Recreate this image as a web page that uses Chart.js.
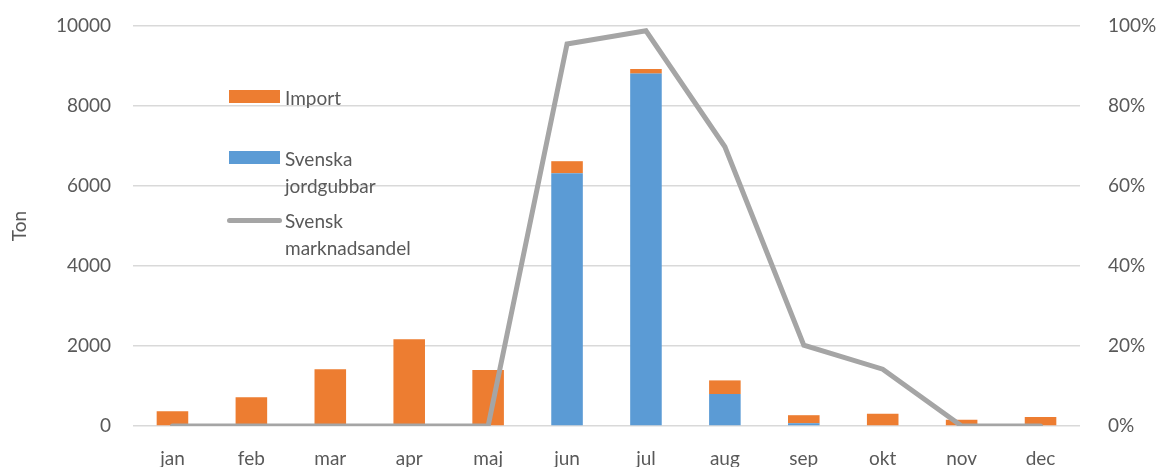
<!DOCTYPE html>
<html>
<head>
<meta charset="utf-8">
<script src="https://cdn.jsdelivr.net/npm/chart.js@4/dist/chart.umd.min.js"></script>
<style>
    html, body { margin: 0; padding: 0; background: #fff; }
    #wrap { position: relative; width: 1157px; height: 467px; }
    .legend { position: absolute; font-family: Lato, "Open Sans", sans-serif; font-size: 19px; color: #595959; line-height: 27px; }
    .legend .sym { position: absolute; left: 0; }
    .legend .txt { position: absolute; left: 56px; white-space: nowrap; }
</style>
</head>
<body>
<div id="wrap">
    <canvas id="chart" width="1157" height="467"></canvas>
    <div class="legend" style="left:229px; top:84px;">
        <div class="sym" style="top:6px; width:51px; height:13px; background:#ED7D31;"></div>
        <div class="txt" style="top:0;">Import</div>
    </div>
    <div class="legend" style="left:229px; top:145px;">
        <div class="sym" style="top:6px; width:51px; height:13px; background:#5B9BD5;"></div>
        <div class="txt" style="top:0;">Svenska<br>jordgubbar</div>
    </div>
    <div class="legend" style="left:227px; top:207px;">
        <div class="sym" style="top:11px; width:55px; height:5px; border-radius:3px; background:#A5A5A5;"></div>
        <div class="txt" style="top:0; left:58px;">Svensk<br>marknadsandel</div>
    </div>
</div>
<script>
// data
const months = ['jan', 'feb', 'mar', 'apr', 'maj', 'jun', 'jul', 'aug', 'sep', 'okt', 'nov', 'dec'];
const svenska = [0, 0, 0, 0, 0, 6320, 8810, 800, 70, 20, 0, 0];
const importTon = [370, 720, 1420, 2170, 1400, 300, 115, 340, 200, 285, 155, 225];
const marknadsandel = [0, 0, 0, 0, 0, 95.5, 98.8, 69.8, 20.2, 14.2, 0, 0];
const tonTicks = [0, 2000, 4000, 6000, 8000, 10000];

const font = { family: 'Lato, "Open Sans", sans-serif', size: 19 };
const textColor = '#595959';

new Chart(document.getElementById('chart'), {
    type: 'bar',
    data: {
        labels: months,
        datasets: [
            {
                type: 'line',
                label: 'Svensk marknadsandel',
                data: marknadsandel,
                yAxisID: 'y2',
                borderColor: '#A5A5A5',
                borderWidth: 5,
                pointRadius: 0,
                tension: 0,
                borderCapStyle: 'round',
                order: 0
            },
            {
                label: 'Svenska jordgubbar',
                data: svenska,
                backgroundColor: '#5B9BD5',
                stack: 's',
                order: 1
            },
            {
                label: 'Import',
                data: importTon,
                backgroundColor: '#ED7D31',
                stack: 's',
                order: 1
            }
        ]
    },
    options: {
        responsive: false,
        animation: false,
        layout: { padding: { top: 26, right: 0, left: 0, bottom: 0 } },
        datasets: {
            bar: { categoryPercentage: 1, barPercentage: 0.4 }
        },
        plugins: {
            legend: { display: false },
            tooltip: { enabled: false }
        },
        scales: {
            x: {
                stacked: true,
                grid: { display: false },
                border: { display: false },
                ticks: { color: textColor, font: font, padding: 13, maxRotation: 0 },
                afterFit: scale => { scale.height = 41; }
            },
            y: {
                stacked: true,
                min: 0,
                max: 10000,
                afterBuildTicks: scale => { scale.ticks = tonTicks.map(v => ({ value: v })); },
                grid: { color: '#D9D9D9', lineWidth: 1.5, drawTicks: false },
                border: { display: false },
                ticks: { color: textColor, font: font, padding: 22, callback: v => String(v) },
                title: { display: true, text: 'Ton', color: textColor, font: font, padding: { top: 8, bottom: 8 } },
                afterFit: scale => { scale.width = 133; scale.paddingTop = 12; }
            },
            y2: {
                position: 'right',
                min: 0,
                max: 100,
                grid: { display: false },
                border: { display: false },
                ticks: {
                    stepSize: 20,
                    color: textColor,
                    font: font,
                    padding: 20,
                    callback: v => v + '%'
                },
                afterFit: scale => { scale.width = 77; scale.paddingTop = 12; }
            }
        }
    }
});
</script>
</body>
</html>
